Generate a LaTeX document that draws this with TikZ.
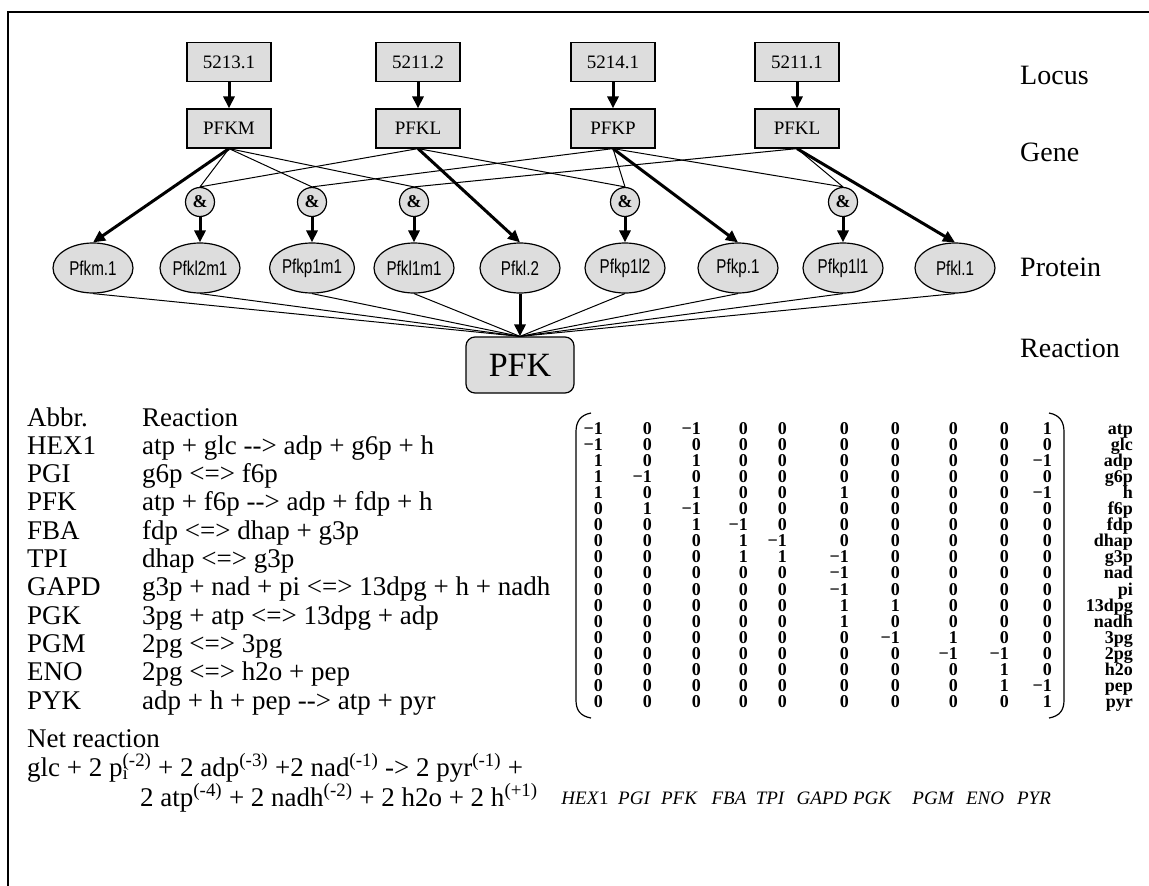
\documentclass[tikz,border=0pt]{standalone}
\usepackage{fontspec}
\setmainfont{Liberation Serif}
\newfontfamily\protfont[FakeStretch=0.76]{Liberation Sans}
\usepackage{xcolor}
\usetikzlibrary{arrows.meta,positioning,shapes.geometric}
\definecolor{boxgray}{HTML}{DDDDDD}

\begin{document}
\begin{tikzpicture}[x=1pt, y=-1pt,
  every node/.style={inner sep=0pt},
  locbox/.style={draw, line width=1.2pt, fill=boxgray, minimum width=84pt, minimum height=39pt, font=\fontsize{19}{21}\selectfont},
  andnode/.style={circle, draw, line width=1.2pt, fill=boxgray, minimum size=29pt, font=\fontsize{18}{20}\selectfont\bfseries},
  protnode/.style={ellipse, draw, line width=1.2pt, fill=boxgray, minimum width=80pt, minimum height=50pt, font=\protfont\fontsize{20}{22}\selectfont},
  rxnbox/.style={draw, line width=1.2pt, rounded corners=9pt, fill=boxgray, minimum width=108pt, minimum height=56pt, font=\fontsize{34}{38}\selectfont},
  levellabel/.style={anchor=west, font=\fontsize{28}{32}\selectfont},
  listtext/.style={anchor=west, text height=18pt, text depth=6pt, font=\fontsize{27}{30}\selectfont},
  coef/.style={anchor=east, text height=12pt, text depth=4pt, font=\fontsize{18}{19}\selectfont\bfseries},
  colname/.style={text height=13pt, text depth=4pt, font=\fontsize{19}{21}\selectfont\itshape},
  strong/.style={line width=3pt, -{Triangle[length=12pt,width=11pt]}},
  weak/.style={line width=1pt},
]
\useasboundingbox (0,0) rectangle (1149,886);

% ---- Frame ----
\draw[line width=1.2pt] (8,886) -- (8,12) -- (1149,12);

% ---- Locus and gene boxes ----
\foreach \loc/\gene/\x [count=\i] in {5213.1/PFKM/229, 5211.2/PFKL/418, 5214.1/PFKP/613, 5211.1/PFKL/797} {
  \node[locbox] (loc\i) at (\x,62) {\loc};
  \node[locbox] (gene\i) at (\x,128.5) {\gene};
  \draw[strong] (loc\i) -- (gene\i);
}

% ---- Complex (&) nodes ----
\foreach \x [count=\i] in {200, 312, 414, 625, 843} {
  \node[andnode] (and\i) at (\x,202) {\&};
}

% ---- Proteins ----
\foreach \prot/\x [count=\i] in {Pfkm.1/93, Pfkl2m1/200, Pfkp1m1/312, Pfkl1m1/414, Pfkl.2/520, Pfkp1l2/625, Pfkp.1/738, Pfkp1l1/843, Pfkl.1/955} {
  \node[protnode] (prot\i) at (\x,268) {\prot};
}

% ---- Reaction ----
\node[rxnbox] (pfk) at (520,365) {PFK};

% ---- Level labels ----
\node[levellabel] (lblLocus) at (1020,75) {Locus};
\node[levellabel] (lblGene) at (1020,152) {Gene};
\node[levellabel] (lblProtein) at (1020,267) {Protein};
\node[levellabel] (lblReaction) at (1020,348) {Reaction};

% ---- Gene -> complex (thin) ----
\foreach \g/\a in {1/1, 1/2, 1/3, 2/1, 2/4, 3/2, 3/4, 3/5, 4/3, 4/5} {
  \draw[weak] (gene\g.south) -- (and\a.north);
}

% ---- Gene -> protein, complex -> protein ----
\foreach \g/\p in {1/1, 2/5, 3/7, 4/9} {
  \draw[strong] (gene\g.south) -- (prot\p.north);
}
\foreach \a/\p in {1/2, 2/3, 3/4, 4/6, 5/8} {
  \draw[strong] (and\a) -- (prot\p);
}

% ---- Protein -> reaction ----
\foreach \p in {1,2,3,4,6,7,8,9} {
  \draw[weak] (prot\p.south) -- (pfk.north);
}
\draw[strong] (prot5) -- (pfk);

% ---- Reaction list ----
\node[listtext] (abHead) at (27,420) {Abbr.};
\node[listtext] (rxHead) at (142,420) {Reaction};
\foreach \ab/\rx [count=\i] in {
  HEX1/atp + glc -{}-> adp + g6p + h,
  PGI/g6p <=> f6p,
  PFK/atp + f6p -{}-> adp + fdp + h,
  FBA/fdp <=> dhap + g3p,
  TPI/dhap <=> g3p,
  GAPD/g3p + nad + pi <=> 13dpg + h + nadh,
  PGK/3pg + atp <=> 13dpg + adp,
  PGM/2pg <=> 3pg,
  ENO/2pg <=> h2o + pep,
  PYK/adp + h + pep -{}-> atp + pyr} {
  \node[listtext] (ab\i) at (27,{420+28.3*\i}) {\ab};
  \node[listtext] (rx\i) at (142,{420+28.3*\i}) {\rx};
}

% ---- Net reaction ----
\node[listtext] (netHead) at (27,741) {Net reaction};
\node[listtext] (netA) at (27,770)
  {glc + 2 p\rlap{\textsubscript{i}}\textsuperscript{(-2)} + 2 adp\textsuperscript{(-3)} +2 nad\textsuperscript{(-1)} -> 2 pyr\textsuperscript{(-1)} +};
\node[listtext] (netB) at (140,800)
  {2 atp\textsuperscript{(-4)} + 2 nadh\textsuperscript{(-2)} + 2 h2o + 2 h\textsuperscript{(+1)}};

% ---- Stoichiometric matrix ----
\draw[line width=1.2pt] (591,413) .. controls (580,415) and (576,422) .. (576,432)
  -- (576,700) .. controls (576,710) and (580,716) .. (591,718);
\draw[line width=1.2pt] (1049,413) .. controls (1060,415) and (1064,422) .. (1064,432)
  -- (1064,700) .. controls (1064,710) and (1060,716) .. (1049,718);

\foreach \met/\vals [count=\r] in {
  atp/{−1,0,−1,0,0,0,0,0,0,1},
  glc/{−1,0,0,0,0,0,0,0,0,0},
  adp/{1,0,1,0,0,0,0,0,0,−1},
  g6p/{1,−1,0,0,0,0,0,0,0,0},
  h/{1,0,1,0,0,1,0,0,0,−1},
  f6p/{0,1,−1,0,0,0,0,0,0,0},
  fdp/{0,0,1,−1,0,0,0,0,0,0},
  dhap/{0,0,0,1,−1,0,0,0,0,0},
  g3p/{0,0,0,1,1,−1,0,0,0,0},
  nad/{0,0,0,0,0,−1,0,0,0,0},
  pi/{0,0,0,0,0,−1,0,0,0,0},
  13dpg/{0,0,0,0,0,1,1,0,0,0},
  nadh/{0,0,0,0,0,1,0,0,0,0},
  3pg/{0,0,0,0,0,0,−1,1,0,0},
  2pg/{0,0,0,0,0,0,0,−1,−1,0},
  h2o/{0,0,0,0,0,0,0,0,1,0},
  pep/{0,0,0,0,0,0,0,0,1,−1},
  pyr/{0,0,0,0,0,0,0,0,0,1}} {
  \node[coef] (met\r) at (1133,{430+16.1*(\r-1)}) {\met};
  \foreach \v [count=\c] in \vals {
    \pgfmathsetmacro\cx{{603,652,701,748,787,849,900,958,1009,1052}[\c-1]}
    \node[coef] (m\r-\c) at (\cx,{430+16.1*(\r-1)}) {\v};
  }
}

% ---- Column names ----
\foreach \rn/\x [count=\i] in {{\textit{HEX}\textup{1}}/585, PGI/634, PFK/679, FBA/729, TPI/770, GAPD/822, PGK/872, PGM/933, ENO/985, PYR/1034} {
  \node[colname] (col\i) at (\x,800) {\rn};
}

\end{tikzpicture}
\end{document}
